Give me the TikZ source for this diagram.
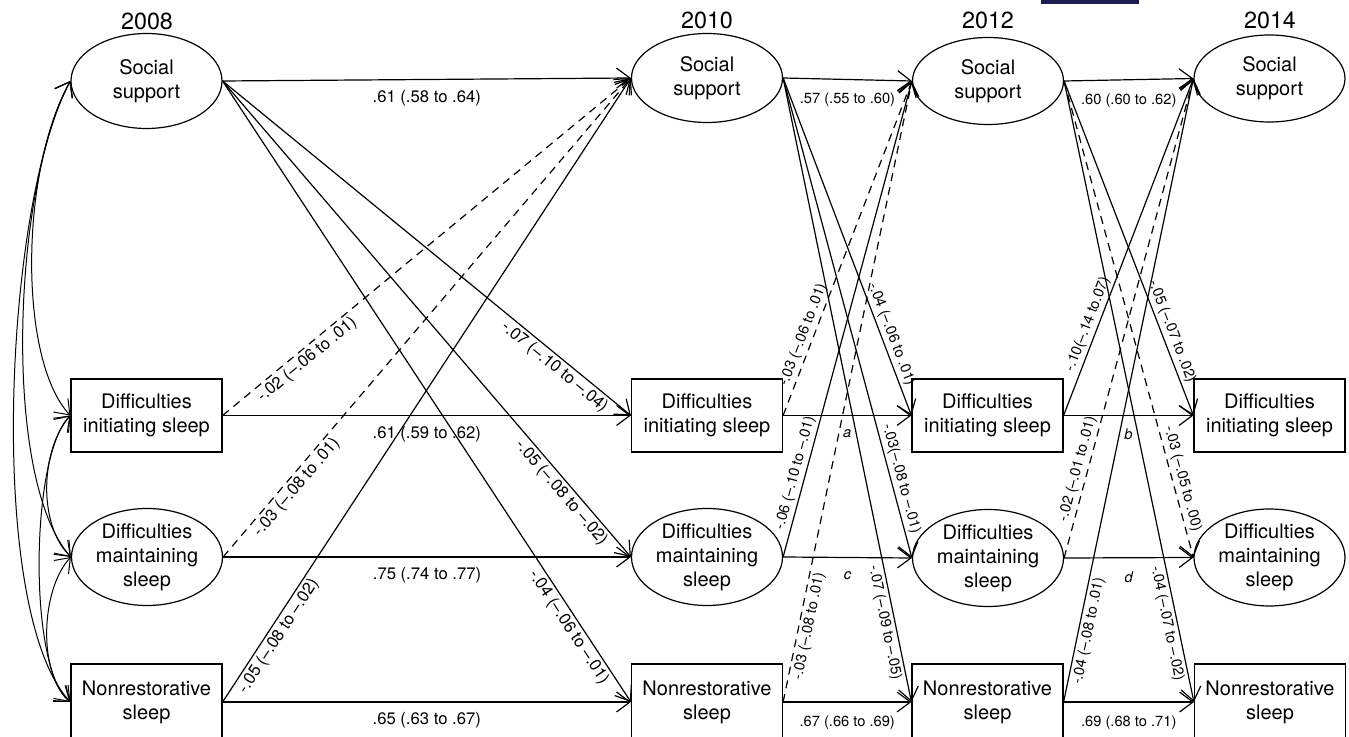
\documentclass[tikz,border=0pt]{standalone}
\usepackage{fontspec}
\setmainfont{TeX Gyre Heros}
\usetikzlibrary{shapes.geometric,arrows.meta}
\definecolor{navybar}{RGB}{28,28,82}
\begin{document}
\begin{tikzpicture}[x=0.75pt,y=-0.75pt,
  nfont/.style={font=\fontsize{15}{18}\selectfont},
  ell/.style={draw, ellipse, line width=0.9pt, minimum width=113.25pt, minimum height=66.75pt, inner sep=0pt, align=center, nfont},
  rbox/.style={draw, rectangle, line width=0.9pt, minimum width=113.25pt, minimum height=54.75pt, inner sep=0pt, align=center, nfont},
  yr/.style={font=\fontsize{17.5}{20}\selectfont},
  arr/.style={line width=0.9pt, -{Straight Barb[length=10pt,width=15pt]}},
  dsh/.style={arr, dash pattern=on 6pt off 4.5pt},
  cov/.style={line width=0.75pt, {Straight Barb[length=10pt,width=15pt]}-{Straight Barb[length=10pt,width=15pt]}},
  la/.style={font=\fontsize{12.5}{14}\selectfont, sloped, inner sep=2pt},
  lb/.style={font=\fontsize{11}{13}\selectfont, sloped, inner sep=2pt},
  hla/.style={font=\fontsize{12.5}{14}\selectfont, midway, below=7.5pt, inner sep=0pt},
  hlb/.style={font=\fontsize{11}{13}\selectfont, midway, below=9.75pt, inner sep=0pt},
]
\useasboundingbox (0,0) rectangle (1349,737);
\fill[navybar] (1041,0) rectangle (1139,4);

% years
\node[yr] (y08) at (147,21) {2008};
\node[yr] (y10) at (707,20) {2010};
\node[yr] (y12) at (988,20) {2012};
\node[yr] (y14) at (1270,20) {2014};

% 2008
\node[ell, minimum height=71.25pt] (ss08) at (146.5,81) {Social\\support};
\node[rbox] (dis08) at (146.5,415.5) {Difficulties\\initiating sleep};
\node[ell, minimum height=72.75pt] (dms08) at (147,557) {Difficulties\\maintaining\\sleep};
\node[rbox, minimum height=57pt] (nrs08) at (146.5,702) {Nonrestorative\\sleep};
% 2010
\node[ell] (ss10) at (707,78) {Social\\support};
\node[rbox] (dis10) at (707,415.5) {Difficulties\\initiating sleep};
\node[ell, minimum height=72.75pt] (dms10) at (707,557) {Difficulties\\maintaining\\sleep};
\node[rbox, minimum height=57pt] (nrs10) at (707,702) {Nonrestorative\\sleep};
% 2012
\node[ell, minimum height=65.25pt] (ss12) at (988,81) {Social\\support};
\node[rbox] (dis12) at (987.5,415.5) {Difficulties\\initiating sleep};
\node[ell, minimum height=72.75pt] (dms12) at (988,558) {Difficulties\\maintaining\\sleep};
\node[rbox, minimum height=57pt] (nrs12) at (987.5,702) {Nonrestorative\\sleep};
% 2014
\node[ell, minimum height=65.25pt] (ss14) at (1269.5,78.5) {Social\\support};
\node[rbox] (dis14) at (1269.5,415.5) {Difficulties\\initiating sleep};
\node[ell, minimum height=72.75pt] (dms14) at (1269.5,557.5) {Difficulties\\maintaining\\sleep};
\node[rbox, minimum height=57pt] (nrs14) at (1270,702) {Nonrestorative\\sleep};

% covariances 2008
\draw[cov] (ss08.west) .. controls (20,170) and (18,360) .. (dis08.west);
\draw[cov] (ss08.west) .. controls (12,190) and (2,480) .. (dms08.west);
\draw[cov] (ss08.west) .. controls (5,200) and (-15,610) .. (nrs08.west);
\draw[cov] (dis08.west) .. controls (40,450) and (38,525) .. (dms08.west);
\draw[cov] (dis08.west) .. controls (30,455) and (28,670) .. (nrs08.west);
\draw[cov] (dms08.west) .. controls (40,590) and (38,675) .. (nrs08.west);

% 2008 -> 2010
\draw[arr] (ss08.east) -- node[hla]{.61 (.58 to .64)} (ss10.west);
\draw[arr] (dis08.east) -- node[hla]{.61 (.59 to .62)} (dis10.west);
\draw[arr] (dms08.east) -- node[hla]{.75 (.74 to .77)} (dms10.west);
\draw[arr] (nrs08.east) -- node[hla]{.65 (.63 to .67)} (nrs10.west);
\draw[arr] (ss08.east) -- node[la, pos=.83, below]{-.07 (--.10 to --.04)} (dis10.west);
\draw[arr] (ss08.east) -- node[la, pos=.85, below]{-.05 (--.08 to --.02)} (dms10.west);
\draw[arr] (ss08.east) -- node[la, pos=.87, below]{-.04 (--.06 to --.01)} (nrs10.west);
\draw[dsh] (dis08.east) -- node[la, pos=.19, below]{-.02 (--.06 to .01)} (ss10.west);
\draw[dsh] (dms08.east) -- node[la, pos=.16, below]{-.03 (--.08 to .01)} (ss10.west);
\draw[arr] (nrs08.east) -- node[la, pos=.115, below]{-.05 (--.08 to --.02)} (ss10.west);

% 2010 -> 2012
\draw[arr] (ss10.east) -- node[hlb]{.57 (.55 to .60)} (ss12.west);
\draw[arr] (dis10.east) -- node[hlb]{\itshape a} (dis12.west);
\draw[arr] (dms10.east) -- node[hlb]{\itshape c} (dms12.west);
\draw[arr] (nrs10.east) -- node[hlb]{.67 (.66 to .69)} (nrs12.west);
\draw[arr] (ss10.east) -- node[lb, pos=.77, above]{-.04 (--.06 to .01)} (dis12.west);
\draw[arr] (ss10.east) -- node[lb, pos=.84, above]{-.03(--.08 to --.01)} (dms12.west);
\draw[arr] (ss10.east) -- node[lb, pos=.87, below]{-.07 (--.09 to --.05)} (nrs12.west);
\draw[dsh] (dis10.east) -- node[lb, pos=.23, above]{-.03 (--.06 to .01)} (ss12.west);
\draw[arr] (dms10.east) -- node[lb, pos=.17, above]{-.06 (--.10 to --.01)} (ss12.west);
\draw[dsh] (nrs10.east) -- node[lb, pos=.125, below]{-.03 (--.08 to .01)} (ss12.west);

% 2012 -> 2014
\draw[arr] (ss12.east) -- node[hlb]{.60 (.60 to .62)} (ss14.west);
\draw[arr] (dis12.east) -- node[hlb]{\itshape b} (dis14.west);
\draw[arr] (dms12.east) -- node[hlb]{\itshape d} (dms14.west);
\draw[arr] (nrs12.east) -- node[hlb]{.69 (.68 to .71)} (nrs14.west);
\draw[arr] (ss12.east) -- node[lb, pos=.76, above]{-.05 (--.07 to .02)} (dis14.west);
\draw[dsh] (ss12.east) -- node[lb, pos=.84, above]{-.03 (--.05 to .00)} (dms14.west);
\draw[arr] (ss12.east) -- node[lb, pos=.87, below]{-.04 (--.07 to --.02)} (nrs14.west);
\draw[arr] (dis12.east) -- node[lb, pos=.26, above]{-.10(--.14 to.07)} (ss14.west);
\draw[dsh] (dms12.east) -- node[lb, pos=.18, above]{-.02 (--.01 to .01)} (ss14.west);
\draw[arr] (nrs12.east) -- node[lb, pos=.117, below]{-.04 (--.08 to .01)} (ss14.west);
\end{tikzpicture}
\end{document}
